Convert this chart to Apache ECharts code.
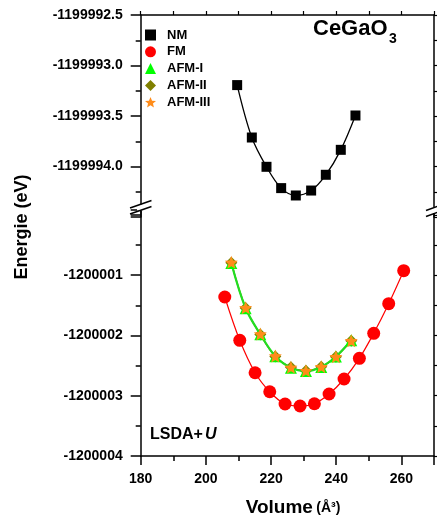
<!DOCTYPE html>
<html><head><meta charset="utf-8">
<script src="https://cdn.jsdelivr.net/npm/echarts@6/dist/echarts.min.js"></script>
<style>html,body{margin:0;padding:0;background:#fff}#c{width:437px;height:522px}</style>
</head><body><div id="c"></div>
<script>
// ---- data ----
const volNM  = [209.6, 214.1, 218.6, 223.1, 227.6, 232.3, 236.8, 241.4, 245.9];
const eNM    = [-1199993.194, -1199993.713, -1199994.003, -1199994.214, -1199994.287, -1199994.238, -1199994.082, -1199993.835, -1199993.495];
const volFM  = [205.8, 210.4, 215.1, 219.6, 224.3, 228.9, 233.3, 237.8, 242.4, 247.1, 251.5, 256.1, 260.7];
const eFM    = [-1200001.363, -1200002.081, -1200002.619, -1200002.934, -1200003.138, -1200003.171, -1200003.133, -1200002.972, -1200002.723, -1200002.380, -1200001.965, -1200001.474, -1200000.927];
const volAFM = [207.8, 212.2, 216.7, 221.3, 226.1, 230.7, 235.4, 239.9, 244.6];
const eAFM1  = [-1200000.800, -1200001.550, -1200001.980, -1200002.345, -1200002.535, -1200002.590, -1200002.522, -1200002.350, -1200002.080];
const eAFM2  = [-1200000.795, -1200001.545, -1200001.985, -1200002.350, -1200002.530, -1200002.585, -1200002.520, -1200002.355, -1200002.090];
const eAFM3  = [-1200000.788, -1200001.541, -1200001.977, -1200002.342, -1200002.529, -1200002.585, -1200002.519, -1200002.353, -1200002.088];
const seriesNames = ['NM', 'FM', 'AFM-I', 'AFM-II', 'AFM-III'];
const xTicks = {min: 180, max: 270, interval: 20};
const yTopTicks = {min: -1199994.5, max: -1199992.5, interval: 0.5};
const yBotTicks = {min: -1200004, max: -1199999.92, interval: 1};

function pairs(xs, ys){ return xs.map((x,i)=>[x, ys[i]]); }
function starPath(){
  let d='';
  for(let i=0;i<10;i++){
    const r = i%2 ? 0.45 : 1;
    const a = -Math.PI/2 + i*Math.PI/5;
    d += (i?'L':'M') + (r*Math.cos(a)).toFixed(3) + ',' + (r*Math.sin(a)).toFixed(3);
  }
  return 'path://' + d + 'Z';
}
const STAR = starPath();
const F = '"Liberation Sans", Arial, sans-serif';
const chart = echarts.init(document.getElementById('c'), null, {renderer:'canvas'});
const AL = {show:true, onZero:false, lineStyle:{color:'#000', width:1.5}};
const noSplit = {show:false};

const option = {
  animation:false,
  backgroundColor:'#fff',
  grid:[
    {left:140.7, right:3, top:15, height:202},
    {left:140.7, right:3, top:210, bottom:66}
  ],
  xAxis:[
    {gridIndex:0, type:'value', position:'top', min:xTicks.min, max:xTicks.max, interval:xTicks.interval,
     axisLine:AL, axisTick:{show:true, length:4, lineStyle:{color:'#000', width:1.2}},
     minorTick:{show:true, splitNumber:2, length:4, lineStyle:{color:'#000', width:1.2}},
     axisLabel:{show:false}, splitLine:noSplit},
    {gridIndex:1, type:'value', position:'bottom', min:xTicks.min, max:xTicks.max, interval:xTicks.interval,
     axisLine:AL, axisTick:{show:true, length:9, lineStyle:{color:'#000', width:1.5}},
     minorTick:{show:true, splitNumber:2, length:5, lineStyle:{color:'#000', width:1.5}},
     axisLabel:{color:'#000', fontFamily:F, fontWeight:'bold', fontSize:14, margin:16, showMaxLabel:false},
     splitLine:noSplit}
  ],
  yAxis:[
    {gridIndex:0, type:'value', position:'left', min:yTopTicks.min, max:yTopTicks.max, interval:yTopTicks.interval,
     axisLine:AL, axisTick:{show:true, length:10, lineStyle:{color:'#000', width:1.5}},
     minorTick:{show:true, splitNumber:2, length:5, lineStyle:{color:'#000', width:1.5}},
     axisLabel:{color:'#000', fontFamily:F, fontWeight:'bold', fontSize:14, margin:18,
       formatter:v=> v < -1199994.25 ? '' : v.toFixed(1)},
     splitLine:noSplit},
    {gridIndex:0, type:'value', position:'right', min:yTopTicks.min, max:yTopTicks.max, interval:yTopTicks.interval,
     axisLine:AL, axisTick:{show:true, length:5, lineStyle:{color:'#000', width:1.2}},
     minorTick:{show:true, splitNumber:2, length:5, lineStyle:{color:'#000', width:1.2}},
     axisLabel:{show:false}, splitLine:noSplit},
    {gridIndex:1, type:'value', position:'left', min:yBotTicks.min, max:yBotTicks.max, interval:yBotTicks.interval,
     axisLine:AL, axisTick:{show:true, length:10, lineStyle:{color:'#000', width:1.5}},
     minorTick:{show:true, splitNumber:2, length:5, lineStyle:{color:'#000', width:1.5}},
     axisLabel:{color:'#000', fontFamily:F, fontWeight:'bold', fontSize:14, margin:18, showMaxLabel:false,
       formatter:v=> v > -1200000.5 ? '' : String(Math.round(v))},
     splitLine:noSplit},
    {gridIndex:1, type:'value', position:'right', min:yBotTicks.min, max:yBotTicks.max, interval:yBotTicks.interval,
     axisLine:AL, axisTick:{show:true, length:5, lineStyle:{color:'#000', width:1.2}},
     minorTick:{show:true, splitNumber:2, length:5, lineStyle:{color:'#000', width:1.2}},
     axisLabel:{show:false}, splitLine:noSplit}
  ],
  legend:{
    orient:'vertical', left:140, top:23.5, itemWidth:11, itemHeight:11, itemGap:3.8,
    textStyle:{color:'#000', fontFamily:F, fontWeight:'bold', fontSize:13, lineHeight:13, padding:[0,0,0,6]},
    data:[
      {name:seriesNames[0], icon:'rect'},
      {name:seriesNames[1], icon:'circle'},
      {name:seriesNames[2], icon:'triangle'},
      {name:seriesNames[3], icon:'diamond'},
      {name:seriesNames[4], icon:STAR}
    ]
  },
  series:[
    {name:seriesNames[0], type:'line', xAxisIndex:0, yAxisIndex:0, data:pairs(volNM,eNM), smooth:0.35,
     symbol:'rect', symbolSize:10, itemStyle:{color:'#000'}, lineStyle:{color:'#000', width:1.3}},
    {name:seriesNames[1], type:'line', xAxisIndex:1, yAxisIndex:2, data:pairs(volFM,eFM), smooth:0.35,
     symbol:'circle', symbolSize:13, itemStyle:{color:'#ff0000'}, lineStyle:{color:'#ff0000', width:1.2}},
    {name:seriesNames[2], type:'line', xAxisIndex:1, yAxisIndex:2, data:pairs(volAFM,eAFM1), smooth:0.35, z:4,
     symbol:'triangle', symbolSize:12, itemStyle:{color:'#00ff00'}, lineStyle:{color:'#22dd22', width:2.2}},
    {name:seriesNames[3], type:'line', xAxisIndex:1, yAxisIndex:2, data:pairs(volAFM,eAFM2), smooth:0.35, z:3,
     symbol:'diamond', symbolSize:12, itemStyle:{color:'#808000'}, lineStyle:{color:'#808000', width:1.5}},
    {name:seriesNames[4], type:'line', xAxisIndex:1, yAxisIndex:2, data:pairs(volAFM,eAFM3), smooth:0.35, z:5,
     symbol:STAR, symbolSize:13, itemStyle:{color:'#ff8c1a'}, lineStyle:{opacity:0}}
  ],
  graphic:[
    // axis break gaps and marks
    {type:'rect', z:100, shape:{x:137, y:204.5, width:8, height:6}, style:{fill:'#fff'}},
    {type:'line', z:101, shape:{x1:130, y1:208, x2:151.5, y2:200.5}, style:{stroke:'#000', lineWidth:1.5}},
    {type:'line', z:101, shape:{x1:130, y1:214, x2:151.5, y2:206.5}, style:{stroke:'#000', lineWidth:1.5}},
    {type:'rect', z:100, shape:{x:430, y:207, width:8, height:6}, style:{fill:'#fff'}},
    {type:'line', z:101, shape:{x1:426, y1:210.5, x2:440, y2:205.5}, style:{stroke:'#000', lineWidth:1.5}},
    {type:'line', z:101, shape:{x1:426, y1:216.5, x2:440, y2:211.5}, style:{stroke:'#000', lineWidth:1.5}},
    // titles
    {type:'text', z:102, left:313, top:18, style:{text:'CeGaO', font:'bold 22px '+F, fill:'#000'}},
    {type:'text', z:102, left:389, top:32, style:{text:'3', font:'bold 14px '+F, fill:'#000'}},
    {type:'text', z:102, left:150, top:427, style:{text:'LSDA+', font:'bold 16px '+F, fill:'#000'}},
    {type:'text', z:102, left:205, top:427, style:{text:'U', font:'italic bold 16px '+F, fill:'#000'}},
    {type:'text', z:102, x:22, y:227, rotation:Math.PI/2,
     style:{text:'Energie (eV)', font:'bold 18px '+F, fill:'#000', align:'center', verticalAlign:'middle'}},
    {type:'text', z:102, x:293, y:508,
     style:{text:'{a|Volume} {b|(Å³)}', align:'center', verticalAlign:'middle', fill:'#000',
       rich:{a:{font:'bold 19px '+F, fill:'#000'}, b:{font:'bold 14px '+F, fill:'#000'}}}}
  ]
};
chart.setOption(option);
</script></body></html>
